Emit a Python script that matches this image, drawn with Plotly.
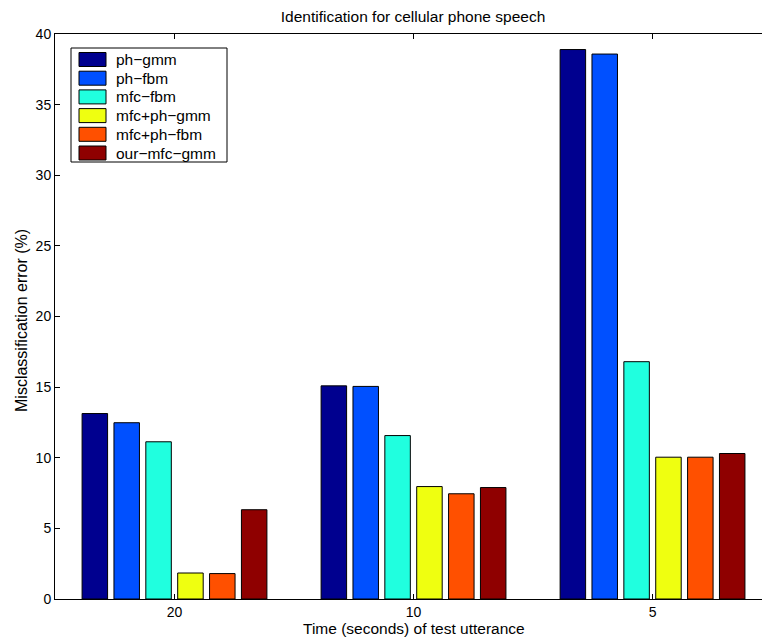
import plotly.graph_objects as go

categories = ["20", "10", "5"]
series_names = ["ph\u2212gmm", "ph\u2212fbm", "mfc\u2212fbm", "mfc+ph\u2212gmm", "mfc+ph\u2212fbm", "our\u2212mfc\u2212gmm"]
ph_gmm = [13.13, 15.09, 38.9]
ph_fbm = [12.48, 15.05, 38.58]
mfc_fbm = [11.13, 11.57, 16.8]
mfc_ph_gmm = [1.84, 7.96, 10.04]
mfc_ph_fbm = [1.80, 7.45, 10.04]
our_mfc_gmm = [6.32, 7.89, 10.3]
colors = ["#00008F", "#0050FF", "#20FFDF", "#EFFF10", "#FF5000", "#8F0000"]

all_series = [ph_gmm, ph_fbm, mfc_fbm, mfc_ph_gmm, mfc_ph_fbm, our_mfc_gmm]

FONT = "Liberation Sans, Arial, Helvetica, sans-serif"

fig = go.Figure()
for name, vals, col in zip(series_names, all_series, colors):
    fig.add_trace(go.Bar(
        x=categories, y=vals, name=name,
        marker=dict(color=col, line=dict(color="black", width=1)),
        hoverinfo="skip",
    ))

W, H = 762, 642
L, T, B, R = 55, 34, 43, 0
PW, PH = W - L - R, H - T - B


def px(xp):
    return (xp - L) / PW


def py(yp):
    return ((H - B) - yp) / PH


# legend box in the upper-left corner, as in the original figure
shapes = [dict(type="rect", xref="paper", yref="paper",
               x0=px(71), x1=px(227), y0=py(48), y1=py(162),
               line=dict(color="black", width=1), fillcolor="white", layer="above")]
annotations = []
row = 18.7
for i, (name, col) in enumerate(zip(series_names, colors)):
    yc = 59.5 + i * row
    shapes.append(dict(type="rect", xref="paper", yref="paper",
                       x0=px(79), x1=px(106), y0=py(yc + 7), y1=py(yc - 7),
                       line=dict(color="black", width=1), fillcolor=col, layer="above"))
    annotations.append(dict(text=name, xref="paper", yref="paper",
                            x=px(114), y=py(yc), xanchor="left", yanchor="middle",
                            showarrow=False,
                            font=dict(size=15.5, family=FONT, color="black")))

annotations += [
    dict(text="Time (seconds) of test utterance", xref="paper", yref="paper",
         x=px(414), y=py(628), xanchor="center", yanchor="middle",
         showarrow=False, font=dict(size=15.5, family=FONT, color="black")),
    dict(text="Misclassification error (%)", xref="paper", yref="paper",
         x=px(21), y=py(321), xanchor="center", yanchor="middle",
         textangle=-90, showarrow=False, font=dict(size=16, family=FONT, color="black")),
]

fig.update_layout(
    width=W, height=H,
    margin=dict(l=L, r=R, t=T, b=B, autoexpand=False),
    paper_bgcolor="white", plot_bgcolor="white",
    barmode="group", bargap=0.2, bargroupgap=0.2,
    font=dict(family=FONT, size=14, color="black"),
    title=dict(text="Identification for cellular phone speech",
               x=413 / W, xanchor="center", xref="container",
               y=1 - 17 / H, yanchor="middle", yref="container",
               font=dict(size=15.5, family=FONT, color="black")),
    showlegend=False,
    hovermode=False,
    xaxis=dict(range=[-0.5, 2.458], showline=True, linecolor="black", linewidth=1,
               mirror="ticks", ticks="inside", ticklen=5, tickcolor="black",
               showgrid=False, zeroline=False,
               tickfont=dict(size=14, family=FONT),
               automargin=False),
    yaxis=dict(range=[0, 40], dtick=5, showline=True, linecolor="black", linewidth=1,
               mirror=False, ticks="inside", ticklen=5, tickcolor="black",
               showgrid=False, zeroline=False,
               tickfont=dict(size=14, family=FONT),
               automargin=False),
    shapes=shapes,
    annotations=annotations,
)

fig.write_html(
    "out.html", config={"displayModeBar": False},
    post_script=("document.documentElement.style.overflow='hidden';"
                 "document.body.style.margin='0px';document.body.style.overflow='hidden';"),
)
